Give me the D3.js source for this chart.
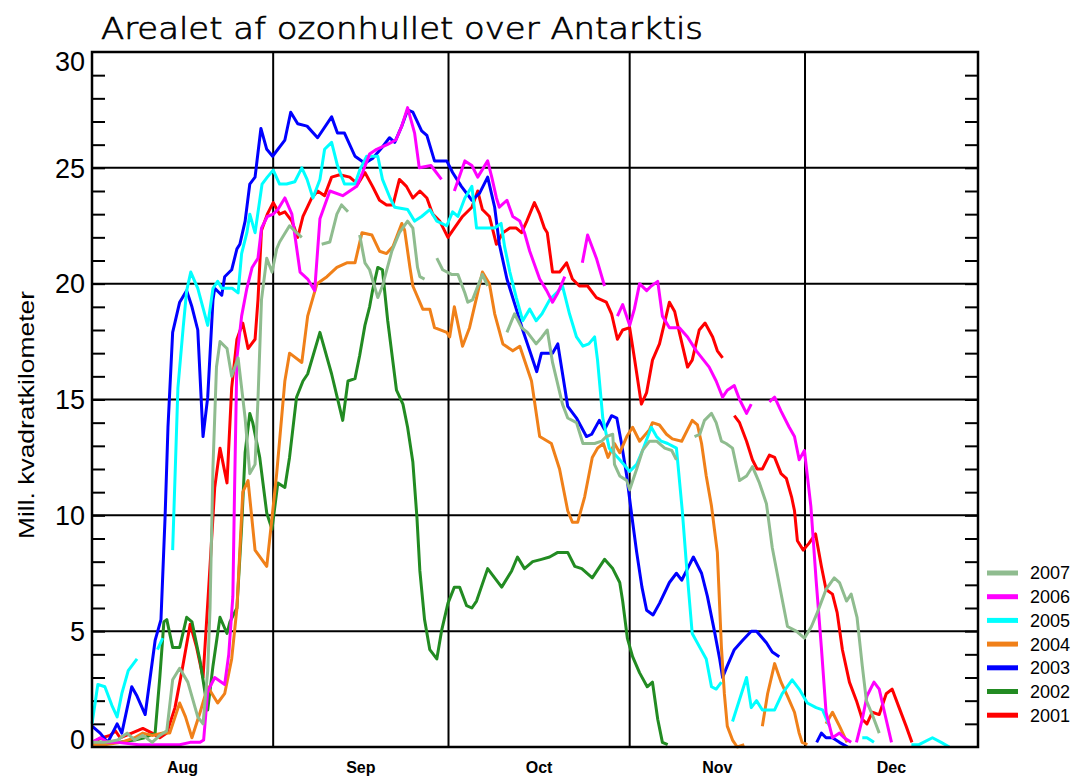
<!DOCTYPE html>
<html>
<head>
<meta charset="utf-8">
<script src="https://cdn.jsdelivr.net/npm/d3@7"></script>
<style>
  html, body { margin: 0; padding: 0; background: #ffffff; }
  svg { display: block; }
</style>
</head>
<body>
<svg id="chart" width="1075" height="776"></svg>
<script>
// x values: days since 1 August; y values: ozone-hole area in million km²
// null marks a break in a season's record
const months = ["Aug", "Sep", "Oct", "Nov", "Dec"];
const monthStarts = [0, 31, 61, 92, 122];
const dayDomain = [0, 151.6];
const yTicks = [0, 5, 10, 15, 20, 25, 30];
const years = ["2007", "2006", "2005", "2004", "2003", "2002", "2001"];
const colors = ["#8fbc8f", "#ff00ff", "#00ffff", "#f08019", "#0000ff", "#228b22", "#ff0000"];

const area2001 = [[0,0.2],[1.7,0.4],[3.1,0.5],[4,0.7],[4.8,0.4],[6.8,0.6],[8.7,0.8],[10.3,0.6],[11.6,0.4],[12.8,0.6],[14.2,1.7],[15.4,3.3],[16.8,5.3],[17.9,4.3],[19,3.0],[20,7.0],[21,11.2],[21.9,12.9],[23.1,11.4],[23.9,15.5],[24.8,17.6],[25.8,18.3],[26.7,17.2],[27.9,17.6],[28.4,19.3],[29,22.3],[30,23.0],[31,23.5],[32.1,23.0],[33,23.1],[34.2,22.7],[35.2,22.0],[36.1,22.9],[37.6,23.7],[38.6,24.0],[39.8,23.8],[41,24.6],[42.4,24.7],[44.1,24.6],[45.5,24.3],[46.7,24.8],[48,24.2],[49.2,23.6],[50.4,23.4],[51.5,23.4],[52.6,24.5],[53.8,24.2],[54.9,23.7],[56.1,24.0],[57.3,23.7],[58.3,23.0],[59.5,22.7],[60.9,22.0],[62,22.4],[63.4,22.9],[65,23.3],[66,24.0],[66.8,23.2],[68,22.9],[69.2,21.7],[70.3,22.2],[71.5,22.4],[72.6,22.4],[73.5,22.2],[74.4,22.7],[75.7,23.5],[76.6,23.0],[77.4,22.4],[77.9,22.2],[78.8,20.5],[80,20.5],[81.2,20.9],[82.2,20.2],[83.4,19.9],[84.8,19.9],[86.3,19.4],[88,19.2],[88.9,18.7],[89.9,17.6],[90.8,18.0],[92,18.1],[92.8,16.8],[94,14.8],[94.9,15.3],[95.9,16.7],[97.1,17.4],[98.8,19.2],[99.7,18.8],[100.5,17.9],[101.9,16.4],[102.7,16.7],[103.9,18.0],[104.9,18.3],[106.2,17.7],[107,17.1],[107.9,16.8],null,[109.9,14.3],[110.8,14.0],[112,13.2],[113,12.4],[113.8,12.0],[114.7,12.0],[115.9,12.6],[116.8,12.5],[117.9,11.8],[118.8,11.6],[119.7,10.8],[120.2,10.2],[120.7,8.9],[121.7,8.5],[122.7,8.8],[123.8,9.2],[124.8,7.8],[125.6,6.8],[126.7,6.6],[127.5,5.8],[128.4,4.2],[129.6,2.8],[130.8,2.0],[131.8,1.2],[132.6,1.0],[133.5,1.5],[134.7,1.4],[135.9,2.3],[136.9,2.5],[138.1,1.7],[139.3,0.9],[140.3,0.2]];

const area2002 = [[0,0.2],[2.2,0.2],[4.4,0.2],[7.3,0.3],[9,0.4],[10.8,0.6],[11.6,3.0],[12.3,5.4],[12.8,5.5],[13.8,4.3],[15,4.3],[16.2,5.6],[17.1,5.4],[18.5,3.7],[19.8,1.6],[20.7,3.5],[21.9,5.6],[23.1,4.9],[23.6,5.4],[24.8,6.0],[25.6,9.5],[26.2,12.7],[27,14.4],[27.5,14.0],[28.7,12.5],[29.9,10.1],[30.8,9.4],[31.3,10.4],[31.8,11.4],[33,11.2],[33.8,12.5],[35,15.1],[36.1,15.8],[36.9,16.1],[39,17.9],[41,16.1],[42.9,14.1],[43.8,15.8],[45,15.9],[45.8,16.9],[46.7,18.2],[47.5,19.0],[48,19.7],[48.9,20.7],[49.7,20.6],[50.6,18.4],[51.5,16.6],[52.1,15.4],[53.2,14.8],[54,13.8],[54.9,12.3],[55.6,9.9],[56.1,7.6],[56.9,5.5],[57.8,4.2],[59,3.8],[59.8,5.0],[60.9,6.2],[62,6.9],[62.9,6.9],[64.1,6.1],[65,6.0],[65.8,6.3],[67.7,7.7],[70.1,6.9],[71.8,7.6],[72.8,8.2],[74,7.7],[75.4,8.0],[76.9,8.1],[78.3,8.2],[79.7,8.4],[81.4,8.4],[82.6,7.8],[83.8,7.7],[85.6,7.3],[87.7,8.1],[89.1,7.7],[90.3,7.1],[90.8,6.3],[91.6,4.7],[92.5,3.9],[93.7,3.2],[95,2.6],[95.9,2.8],[96.8,1.2],[97.6,0.2],[98.5,0.1]];

const area2003 = [[0,0.9],[1.4,0.6],[2.7,0.2],[4.3,1.0],[5.1,0.6],[6.8,2.6],[7.7,2.2],[9.1,1.4],[10.8,4.6],[11.8,5.5],[12.5,9.9],[13,13.8],[13.8,17.9],[15,19.2],[16.2,19.7],[17.1,19.0],[18.1,18.0],[19,13.4],[19.8,15.1],[20.7,19.3],[21,19.8],[22.2,19.5],[22.7,20.3],[23.9,20.6],[24.8,21.5],[25.3,21.7],[26.2,22.7],[27,24.3],[27.9,24.6],[28.9,26.7],[29.9,25.8],[30.9,25.5],[33,26.2],[34,27.4],[35.2,26.9],[36.8,26.8],[38.6,26.3],[41,27.2],[42,26.5],[43.2,26.5],[45,25.5],[46.7,25.2],[48,25.4],[49.7,25.9],[50.9,26.3],[51.8,26.1],[53,26.8],[54,27.5],[54.9,27.4],[56.4,26.6],[57.3,26.4],[58.6,25.3],[60.7,25.3],[61.7,24.8],[63.2,24.2],[65,23.6],[66.3,23.9],[67.7,24.6],[68.9,23.3],[69.7,21.7],[71,20.2],[72.6,18.9],[73.7,18.0],[74.9,17.1],[76.1,16.2],[76.9,17.0],[78.8,17.0],[79.7,17.4],[80.9,15.5],[81.4,14.7],[82.9,14.2],[84.6,13.4],[85.5,13.5],[86.8,14.1],[87.7,13.7],[88.9,14.3],[89.8,14.2],[90.6,13.1],[91.5,11.7],[92.3,10.1],[93.2,8.4],[94.1,6.9],[94.9,5.9],[96,5.7],[97.1,6.2],[98.8,7.1],[100,7.5],[100.9,7.2],[101.9,7.7],[102.9,8.2],[104.3,7.5],[105.3,6.5],[106.5,5.0],[107.4,3.8],[107.9,3.0],[108.7,3.5],[109.9,4.2],[111.3,4.6],[112.8,5.0],[113.7,5.0],[115.4,4.5],[116.4,4.1],[117.6,3.9],null,[124,0.2],[124.8,0.6],[125.6,0.4],[126.7,0.4],[127.9,0.2],[129.3,0.0]];

const area2004 = [[0,0.1],[2.2,0.1],[5,0.2],[7.3,0.4],[8.7,0.6],[10.3,0.5],[12,0.6],[13.3,0.6],[15,1.9],[16,1.3],[17.1,0.4],[18.5,1.5],[19.8,2.6],[21.5,1.9],[22.7,2.3],[23.9,3.8],[24.8,6.0],[25.8,11.0],[26.7,11.5],[27.9,8.5],[29.9,7.8],[30.8,9.9],[31.6,11.8],[33,15.8],[33.8,17.0],[35.9,16.6],[36.9,18.6],[38.5,20.0],[40.2,20.3],[41.9,20.7],[43.6,20.9],[45,20.9],[46.2,22.2],[47.9,22.1],[49.2,21.4],[50.4,21.3],[51.5,21.6],[53,22.6],[53.5,22.3],[54.4,20.7],[54.9,19.9],[56.6,18.9],[57.8,18.9],[58.6,18.1],[60.7,17.9],[61.2,17.7],[62,19.0],[63.4,17.3],[64.6,18.1],[65.8,19.4],[66.8,20.5],[68,20.0],[68.9,18.7],[70.3,17.4],[72,17.1],[73.2,17.3],[75.2,15.8],[76.6,13.4],[78.6,13.1],[80,12.0],[81.4,10.2],[82.2,9.7],[83.1,9.7],[84.3,10.8],[85.6,12.5],[86.5,12.9],[87.5,13.1],[88.3,12.5],[89.4,13.1],[90.3,12.7],[91.5,13.4],[92.5,13.8],[93.7,13.2],[95.4,13.7],[95.9,14.0],[97.1,13.9],[98.3,13.5],[99.3,13.3],[100.9,13.2],[101.9,13.7],[102.7,14.1],[103.6,13.9],[104.3,13.1],[105.1,11.7],[106,10.4],[106.5,9.4],[107,8.4],[107.7,4.3],[108.2,2.3],[108.7,0.9],[109.6,0.3],[110.4,0],[111.6,0.1],null,[114.7,0.9],[115.6,2.3],[116.8,3.6],[117.9,2.8],[119,2.2],[120.2,1.5],[121,0.6],[121.5,0.2],[122.4,0.1],null,[125.6,1.0],[126.7,1.5],[127.9,0.9],[129.2,0.2]];

const area2005 = [[0,1.0],[1,2.7],[2.2,2.6],[3.4,1.8],[4.3,1.3],[5.1,2.3],[6.2,3.3],[7.7,3.8],null,[11.2,4.2],[12.1,4.7],null,[13.8,8.5],[14.7,15.5],[15.6,18.1],[16.2,19.7],[16.9,20.5],[18.1,19.8],[19.8,18.2],[20.7,19.8],[21.5,20.1],[22.2,19.8],[24,19.8],[25,19.6],[25.6,21.3],[26.5,22.2],[27,23.0],[27.9,22.2],[29.1,24.3],[30,24.6],[31,24.9],[32.1,24.3],[33.3,24.3],[34.7,24.4],[35.9,25.0],[36.8,24.5],[37.8,23.7],[39,24.5],[39.8,25.8],[41,26.1],[42,25.1],[43.2,24.3],[45,24.3],[45.8,24.9],[47,25.5],[48.9,25.5],[49.7,24.5],[51,23.7],[51.8,23.3],[54,23.2],[55.2,22.7],[56.4,22.9],[57.8,23.2],[59,22.7],[60.7,22.5],[61.7,23.1],[62.6,22.9],[63.8,23.7],[65,24.2],[65.8,22.4],[67.5,22.4],[68.9,22.4],[70,22.6],[70.6,21.6],[71.5,20.5],[72.6,19.4],[73.7,18.4],[74.9,18.9],[76,18.4],[77,18.7],[78.3,19.3],[79.5,19.6],[80.5,19.9],[81.7,18.7],[82.9,17.7],[84,17.3],[85,17.4],[86,17.7],[86.5,16.7],[87.4,14.2],[88.5,12.9],[90.3,12.4],[92,11.9],[93.2,12.2],[94.2,12.8],[95.7,13.8],[96.6,13.4],[97.4,13.2],[98.5,13.1],[100,12.9],[101,10.2],[101.7,7.9],[102.7,4.9],[104,4.3],[105.1,3.8],[106,2.6],[106.8,2.5],[107.7,2.8],null,[109.6,1.1],[112,3.0],[112.8,1.7],[113.7,2.0],[114.7,1.6],[116.8,1.6],[118.1,2.3],[119.8,2.9],[121,2.5],[122.4,1.9],[123.9,1.7],[125,1.6],[126.2,0.9],null,[131.8,0.4],[132.6,0.4],[133.8,0.2],null,[140.2,0.1],[141.5,0.1],[143.8,0.4],[145.3,0.2],[146.7,0]];

const area2006 = [[0,0.2],[1.4,0.4],[2.7,0.2],[4.4,0.2],[8,0.1],[13,0.1],[15,0.1],[16.8,0.2],[18.5,0.2],[19.1,0.3],[19.8,2.4],[21,3.0],[22.7,2.7],[23.4,4.0],[24.1,6.5],[24.4,11.2],[24.8,16.8],[25.6,18.6],[26.5,19.8],[27.4,20.7],[28.4,21.1],[29,22.4],[30,22.9],[31,23.0],[31.8,23.2],[33,23.7],[34.2,23.0],[35.6,20.5],[36.9,20.2],[38.1,19.7],[39,22.8],[40.7,24.0],[42.9,23.8],[45.3,24.2],[46.3,24.8],[47.5,25.6],[48.7,25.8],[50.5,26.0],[52,26.2],[53,26.8],[54,27.6],[55.2,26.5],[56,25.0],[58,25.1],[59.8,24.5],null,[62,24.0],[63.8,25.3],[65,25.1],[66,24.6],[67.7,25.3],[68.4,24.6],[69.2,23.7],[69.7,23.3],[71,23.6],[72,22.9],[73.2,22.7],[74,22.2],[74.9,21.4],[76.6,20.2],[77.8,19.7],[78.8,19.2],[79.7,19.6],[80.9,20.3],null,[83.9,20.9],[84.8,22.1],[86.3,21.1],[87.7,19.9],null,[89.9,18.6],[90.8,19.1],[92,18.2],[92.8,18.9],[93.7,20.0],[94.9,19.7],[95.7,19.9],[96.8,20.1],[97.6,18.6],[98.8,18.1],[100.5,18.1],[101.9,17.7],[103.4,17.1],[105.6,16.4],[106.8,15.8],[107.9,15.1],[108.7,15.4],[109.9,15.6],[110.8,15.0],[112,14.4],[112.8,14.8],null,[115.9,14.9],[116.8,15.1],[117.9,14.5],[119.3,13.8],[120.2,13.4],[121,12.4],[121.9,12.8],[123,10.4],[123.9,7.2],[124.8,4.3],[125.6,1.5],[126.7,0.4],[127.9,0.6],[128.7,0.4],[129.9,0.2],null,[130.8,0.2],[131.8,1.2],[132.6,2.2],[133.8,2.8],[134.7,2.5],[135.6,1.5],[136.8,0.2]];

const area2007 = [[0,0.2],[2.2,0.2],[4.4,0.3],[6,0.6],[7.3,0.3],[8.7,0.5],[10.3,0.2],[11.6,0.5],[12.8,0.7],[13.8,2.9],[15,3.4],[16.4,2.8],[18.1,1.3],[19,1.0],[19.8,3.3],[20.2,6.0],[20.7,12.1],[21.3,16.4],[21.9,17.5],[23.1,17.2],[23.9,16.0],[25,16.8],[25.6,15.5],[26.2,14.2],[27,11.8],[27.9,12.2],[28.4,15.0],[29,19.3],[29.9,21.1],[30.8,20.5],[31.6,21.5],[32.1,21.8],[33.8,22.5],[35,22.2],[35.9,22.0],null,[39.3,21.7],[40.7,21.8],[41.9,23.0],[42.7,23.4],[43.8,23.1],null,[45.8,22.1],[46.7,20.9],[47.5,20.6],[48.9,19.4],[49.7,19.9],[51.3,21.4],[52.6,22.2],[54,22.7],[54.9,22.4],[55.7,20.7],[56.1,20.3],[56.9,20.2],null,[59,21.1],[60,20.6],[61.5,20.4],[62.6,20.4],[63.8,19.6],[64.3,19.2],[65.1,19.3],[66.8,20.4],[67.7,19.9],null,[71,17.9],[72.3,18.7],[73.5,18.1],[74.5,17.9],[76,17.4],[77,17.7],[77.9,18.0],[78.8,16.6],[80.5,14.8],[81.4,14.2],[82.9,14.0],[84,13.1],[86,13.1],[87.2,13.2],[88,13.4],[89.1,13.5],[89.4,12.2],[90.3,11.7],[91.5,11.5],[92,11.1],[93.2,12.0],[94.2,12.8],[95.4,13.2],[96.6,13.2],[98,12.9],[99.2,12.8],[100,12.4],null,[103.1,13.4],[104,13.5],[104.8,14.1],[106,14.4],[106.8,14.0],[107.7,13.2],[108.5,13.1],[109.6,12.9],[110.8,11.5],[112,11.7],[113,12.1],[114.2,11.4],[115.4,10.5],[116.4,8.6],[118,6.5],[119,5.2],[120.5,5.0],[121.9,4.7],[123.1,5.2],[124.1,5.8],[125.6,6.8],[127,7.3],[127.9,7.1],[129.1,6.3],[129.9,6.6],[130.9,5.6],[131.8,3.5],[132.5,2.0],[133.5,1.4],[134.7,0.6]];

// same order as `years`
const seasons = [area2007, area2006, area2005, area2004, area2003, area2002, area2001];

const svg = d3.select("#chart");
const plot = { left: 92, right: 978, top: 52, bottom: 747 };

const x = d3.scaleLinear().domain(dayDomain).range([plot.left, plot.right]);
const y = d3.scaleLinear().domain([0, 30]).range([plot.bottom, plot.top]);

const fontSans = "'Liberation Sans', Arial, sans-serif";

// title
svg.append("text")
  .attr("x", 101).attr("y", 39)
  .attr("font-family", "'DejaVu Sans', sans-serif")
  .attr("font-weight", 300)
  .attr("font-size", 31)
  .attr("textLength", 602)
  .attr("lengthAdjust", "spacingAndGlyphs")
  .attr("fill", "#000")
  .attr("stroke", "#000")
  .attr("stroke-width", 0.7)
  .text("Arealet af ozonhullet over Antarktis");

// horizontal grid lines at labelled values
svg.append("g").selectAll("line")
  .data(yTicks.filter(v => v > 0 && v < 30))
  .join("line")
  .attr("x1", plot.left).attr("x2", plot.right)
  .attr("y1", d => y(d)).attr("y2", d => y(d))
  .attr("stroke", "#000").attr("stroke-width", 2);

// vertical grid lines at month boundaries
svg.append("g").selectAll("line")
  .data(monthStarts.slice(1))
  .join("line")
  .attr("x1", d => x(d)).attr("x2", d => x(d))
  .attr("y1", plot.top).attr("y2", plot.bottom)
  .attr("stroke", "#000").attr("stroke-width", 2);

// minor ticks on both vertical axes
const minor = d3.range(1, 30);
const leftAxis = d3.axisLeft(y).tickValues(minor).tickSize(-13).tickFormat("");
const rightAxis = d3.axisRight(y).tickValues(minor).tickSize(-13).tickFormat("");
svg.append("g").attr("transform", `translate(${plot.left},0)`).call(leftAxis)
  .call(g => g.select(".domain").remove())
  .call(g => g.selectAll("line").attr("stroke", "#000").attr("stroke-width", 2));
svg.append("g").attr("transform", `translate(${plot.right},0)`).call(rightAxis)
  .call(g => g.select(".domain").remove())
  .call(g => g.selectAll("line").attr("stroke", "#000").attr("stroke-width", 2));

// y tick labels; the end labels are nudged inside the frame
const yMax = d3.max(yTicks);
svg.append("g").selectAll("text")
  .data(yTicks)
  .join("text")
  .attr("x", 85)
  .attr("y", d => y(d) + (d === 0 ? -8 : d === yMax ? 9 : 0))
  .attr("dy", "0.36em")
  .attr("text-anchor", "end")
  .attr("font-family", fontSans)
  .attr("font-size", 27)
  .attr("fill", "#000")
  .text(d => d);

// month labels centred in each month
const monthEnds = monthStarts.slice(1).concat([dayDomain[1]]);
svg.append("g").selectAll("text")
  .data(months)
  .join("text")
  .attr("x", (d, i) => x((monthStarts[i] + monthEnds[i]) / 2))
  .attr("y", 773)
  .attr("text-anchor", "middle")
  .attr("font-family", fontSans)
  .attr("font-weight", "bold")
  .attr("font-size", 16)
  .attr("fill", "#000")
  .text(d => d);

// y axis title
svg.append("text")
  .attr("transform", "translate(34,415) rotate(-90)")
  .attr("text-anchor", "middle")
  .attr("font-family", fontSans)
  .attr("font-size", 22)
  .attr("textLength", 248)
  .attr("lengthAdjust", "spacingAndGlyphs")
  .attr("fill", "#000")
  .text("Mill. kvadratkilometer");

// season curves, oldest first so the latest year sits on top
const line = d3.line()
  .defined(d => d !== null)
  .x(d => x(d[0]))
  .y(d => y(d[1]));

const order = d3.range(years.length).reverse();
svg.append("g").selectAll("path")
  .data(order)
  .join("path")
  .attr("d", i => line(seasons[i]))
  .attr("fill", "none")
  .attr("stroke", i => colors[i])
  .attr("stroke-width", 3)
  .attr("stroke-linejoin", "round");

// plot frame
svg.append("rect")
  .attr("x", plot.left).attr("y", plot.top)
  .attr("width", plot.right - plot.left).attr("height", plot.bottom - plot.top)
  .attr("fill", "none").attr("stroke", "#000").attr("stroke-width", 2.5);

// legend
const legend = svg.append("g").selectAll("g")
  .data(years)
  .join("g")
  .attr("transform", (d, i) => `translate(0,${573 + i * 23.7})`);
legend.append("line")
  .attr("x1", 987).attr("x2", 1018)
  .attr("stroke", (d, i) => colors[i])
  .attr("stroke-width", 5);
legend.append("text")
  .attr("x", 1030).attr("dy", "0.36em")
  .attr("font-family", fontSans)
  .attr("font-size", 18)
  .attr("fill", "#000")
  .text(d => d);
</script>
</body>
</html>
